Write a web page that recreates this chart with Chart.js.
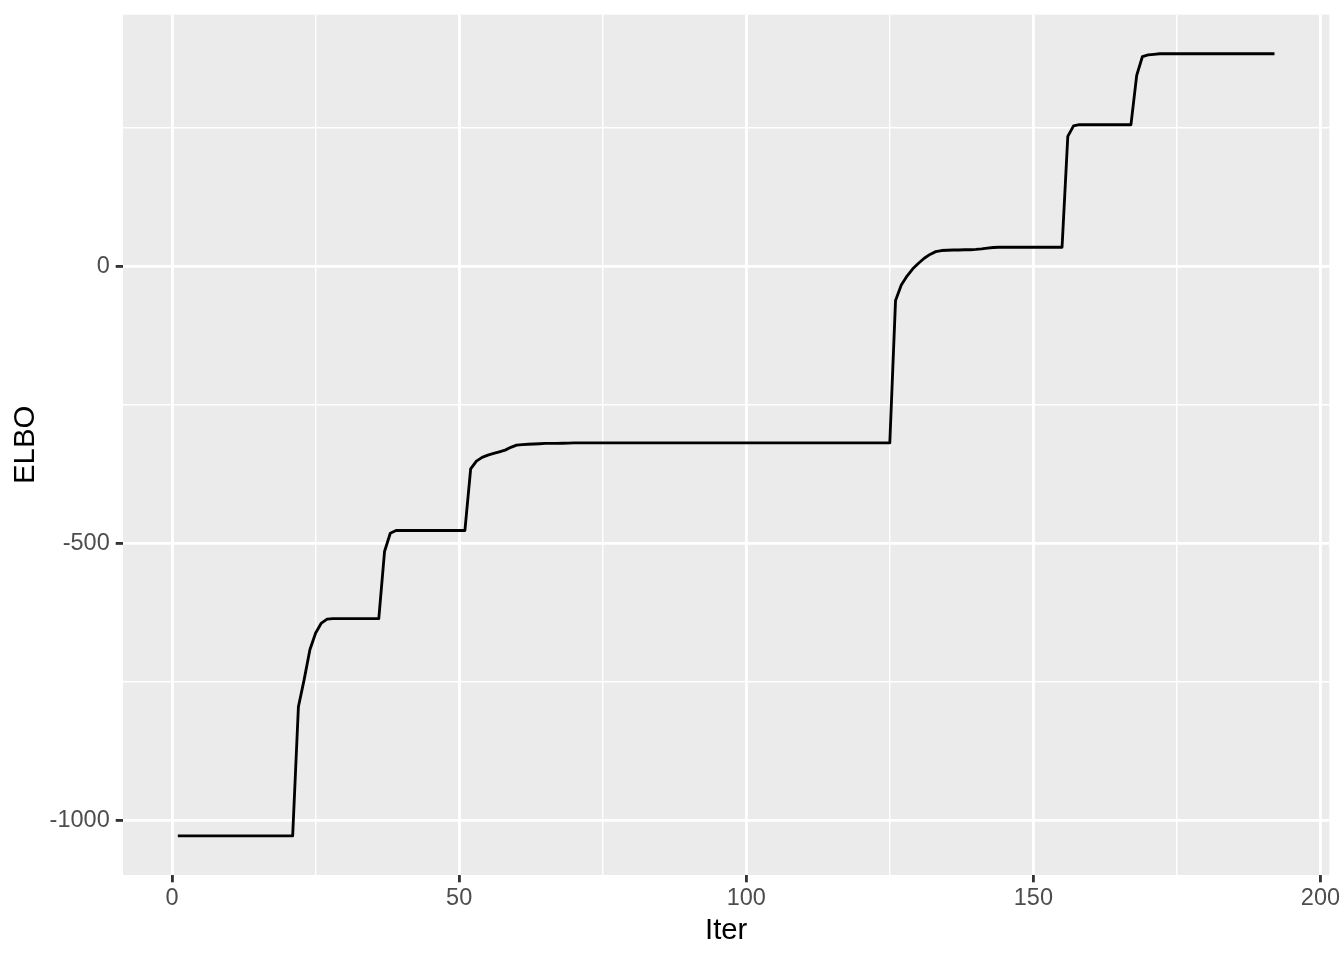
<!DOCTYPE html>
<html>
<head>
<meta charset="utf-8">
<script src="https://cdn.jsdelivr.net/npm/chart.js@4.4.1/dist/chart.umd.min.js"></script>
<style>
  html, body { margin: 0; padding: 0; background: #FFFFFF; }
  #wrap { width: 1344px; height: 960px; position: relative; }
</style>
</head>
<body>
<div id="wrap"><canvas id="c"></canvas></div>
<script>
// ---- data ----
const elbo = [
  -1028, -1028, -1028, -1028, -1028, -1028, -1028, -1028, -1028, -1028,
  -1028, -1028, -1028, -1028, -1028, -1028, -1028, -1028, -1028, -1028,
  -1028, -795, -746, -692, -662, -644, -637, -636, -636, -636,
  -636, -636, -636, -636, -636, -636, -515, -482, -477, -477,
  -477, -477, -477, -477, -477, -477, -477, -477, -477, -477,
  -477, -366, -352, -345, -341, -338, -335, -332, -327, -323,
  -322, -321.5, -321, -320.5, -320, -320, -319.8, -319.6, -319.4, -319,
  -319, -319, -319, -319, -319, -319, -319, -319, -319, -319,
  -319, -319, -319, -319, -319, -319, -319, -319, -319, -319,
  -319, -319, -319, -319, -319, -319, -319, -319, -319, -319,
  -319, -319, -319, -319, -319, -319, -319, -319, -319, -319,
  -319, -319, -319, -319, -319, -319, -319, -319, -319, -319,
  -319, -319, -319, -319, -319, -62, -34, -18, -5, 5,
  14, 21, 26, 28, 28.5, 29, 29, 29.5, 29.5, 30,
  31, 32.5, 33.5, 34, 34, 34, 34, 34, 34, 34,
  34, 34, 34, 34, 34, 234, 253, 255, 255, 255,
  255, 255, 255, 255, 255, 255, 255, 344, 378, 381,
  382, 383, 383, 383, 383, 383, 383, 383, 383, 383,
  383, 383, 383, 383, 383, 383, 383, 383, 383, 383,
  383, 383
];
const iter = elbo.map((_, i) => i + 1);

const xTicks = [0, 25, 50, 75, 100, 125, 150, 175, 200];
const xMajor = [0, 50, 100, 150, 200];
const yTicks = [-1000, -750, -500, -250, 0, 250];
const yMajor = [-1000, -500, 0];

const xLimits = [-8.55, 201.55];
const yLimits = [-1098.5, 453.5];

// ---- styling ----
const FONT = 'Liberation Sans, Arial, Helvetica, sans-serif';
const MAJOR_W = 2.84, MINOR_W = 1.42;

const panelBg = {
  id: 'panelBg',
  beforeDraw(chart) {
    const { ctx, chartArea: a } = chart;
    ctx.save();
    ctx.fillStyle = '#EBEBEB';
    ctx.fillRect(a.left, a.top, a.right - a.left, a.bottom - a.top);
    ctx.restore();
  }
};

new Chart(document.getElementById('c'), {
  type: 'line',
  data: {
    datasets: [{
      data: iter.map((x, i) => ({ x: x, y: elbo[i] })),
      borderColor: '#000000',
      borderWidth: 2.84,
      borderJoinStyle: 'round',
      borderCapStyle: 'butt',
      pointRadius: 0,
      pointHoverRadius: 0,
      tension: 0,
      fill: false
    }]
  },
  options: {
    responsive: true,
    maintainAspectRatio: false,
    devicePixelRatio: 1,
    animation: false,
    events: [],
    layout: { padding: { top: 14.67, right: 14.67, left: 0, bottom: 0 } },
    plugins: {
      legend: { display: false },
      tooltip: { enabled: false }
    },
    scales: {
      x: {
        type: 'linear',
        min: xLimits[0],
        max: xLimits[1],
        afterBuildTicks: s => { s.ticks = xTicks.map(v => ({ value: v })); },
        afterFit: s => { s.height = 85; s.paddingLeft = 0; s.paddingRight = 0; },
        ticks: {
          autoSkip: false,
          maxRotation: 0,
          includeBounds: false,
          padding: 2,
          color: '#4D4D4D',
          font: { family: FONT, size: 23.5 },
          callback: v => (xMajor.includes(v) ? String(v) : '')
        },
        grid: {
          color: '#FFFFFF',
          lineWidth: c => (xMajor.includes(c.tick.value) ? MAJOR_W : MINOR_W),
          drawTicks: true,
          tickLength: 7.3,
          tickWidth: MAJOR_W,
          tickColor: c => (xMajor.includes(c.tick.value) ? '#333333' : 'rgba(0,0,0,0)')
        },
        border: { display: false },
        title: {
          display: true,
          text: 'Iter',
          color: '#000000',
          font: { family: FONT, size: 29.3, lineHeight: 1 },
          padding: { top: 0, bottom: 14 }
        }
      },
      y: {
        type: 'linear',
        min: yLimits[0],
        max: yLimits[1],
        afterBuildTicks: s => { s.ticks = yTicks.map(v => ({ value: v })); },
        afterFit: s => { s.width = 123; s.paddingTop = 0; s.paddingBottom = 0; },
        ticks: {
          autoSkip: false,
          includeBounds: false,
          padding: 6,
          color: '#4D4D4D',
          font: { family: FONT, size: 23.5 },
          callback: v => (yMajor.includes(v) ? String(v) : '')
        },
        grid: {
          color: '#FFFFFF',
          lineWidth: c => (yMajor.includes(c.tick.value) ? MAJOR_W : MINOR_W),
          drawTicks: true,
          tickLength: 7.3,
          tickWidth: MAJOR_W,
          tickColor: c => (yMajor.includes(c.tick.value) ? '#333333' : 'rgba(0,0,0,0)')
        },
        border: { display: false },
        title: {
          display: true,
          text: 'ELBO',
          color: '#000000',
          font: { family: FONT, size: 29.3, lineHeight: 1 },
          padding: { top: 11, bottom: 0 }
        }
      }
    }
  },
  plugins: [panelBg]
});
</script>
</body>
</html>
